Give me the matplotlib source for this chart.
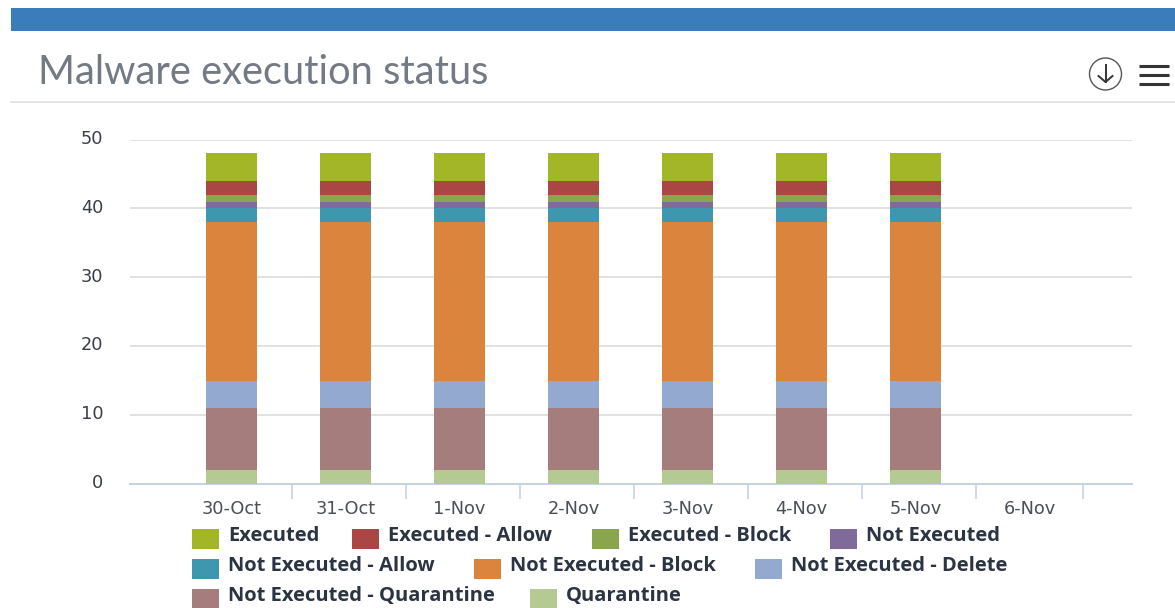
import numpy as np
import matplotlib
matplotlib.use('Agg')
import matplotlib.pyplot as plt
from matplotlib.patches import Rectangle, Circle
from matplotlib.transforms import ScaledTranslation

W, H = 1175, 608

dates = ['30-Oct', '31-Oct', '1-Nov', '2-Nov', '3-Nov', '4-Nov', '5-Nov', '6-Nov']

# bottom to top
quarantine = [2, 2, 2, 2, 2, 2, 2, 0]
ne_quarantine = [9, 9, 9, 9, 9, 9, 9, 0]
ne_delete = [4, 4, 4, 4, 4, 4, 4, 0]
ne_block = [23, 23, 23, 23, 23, 23, 23, 0]
ne_allow = [2, 2, 2, 2, 2, 2, 2, 0]
not_executed = [1, 1, 1, 1, 1, 1, 1, 0]
ex_block = [1, 1, 1, 1, 1, 1, 1, 0]
ex_allow = [2, 2, 2, 2, 2, 2, 2, 0]
executed = [4, 4, 4, 4, 4, 4, 4, 0]

series = [quarantine, ne_quarantine, ne_delete, ne_block, ne_allow,
          not_executed, ex_block, ex_allow, executed]
colors = ['#B5CA92', '#A47D7C', '#93A9CF', '#DB843D', '#3F97AF',
          '#80699B', '#89A54E', '#AA4643', '#A2B627']

yticks = [0, 10, 20, 30, 40, 50]

# legend rows: (swatch x, text x, label, colour)
legend_rows = [
    [(192, 228, 'Executed', '#A2B627'), (352, 388, 'Executed - Allow', '#AA4643'),
     (592, 628, 'Executed - Block', '#89A54E'), (830, 866, 'Not Executed', '#80699B')],
    [(192, 228, 'Not Executed - Allow', '#3F97AF'), (474, 510, 'Not Executed - Block', '#DB843D'),
     (755, 791, 'Not Executed - Delete', '#93A9CF')],
    [(192, 228, 'Not Executed - Quarantine', '#A47D7C'), (530, 566, 'Quarantine', '#B5CA92')],
]
legend_y = [529, 559, 589]

text_c = '#2b3442'
plt.rcParams['font.family'] = ['DejaVu Sans']

fig = plt.figure(figsize=(W / 100, H / 100), dpi=100, facecolor='white')

# chart area, pixel box
ax = fig.add_axes([130 / W, (H - 484) / H, (1132 - 130) / W, 344.5 / H])
x = np.arange(len(dates))
bottom = np.zeros(len(dates))
for vals, c in zip(series, colors):
    ax.bar(x, vals, width=0.447, bottom=bottom, color=c, linewidth=0, zorder=3)
    bottom += np.array(vals)

ax.set_xlim(-0.89, 7.9)
ax.set_ylim(0, 50)
ax.set_yticks(yticks)
ax.grid(axis='y', color='#dcdcdc', linewidth=1.2, zorder=0)
ax.set_xticks(x)
ax.set_xticklabels(dates, fontsize=12.8, color='#4a4f58')
ax.tick_params(axis='x', length=0, pad=11.5)
ax.set_xticks(list(x[:-1] + 0.53) + [7.47], minor=True)
ax.tick_params(axis='x', which='minor', length=11, width=1.2, color='#c5d3e3')
ax.tick_params(axis='y', length=0, pad=19, labelsize=12.8, labelcolor='#3a3f4a')
for lab in ax.get_yticklabels():
    lab.set_transform(lab.get_transform() + ScaledTranslation(0, 2 / 72, fig.dpi_scale_trans))
for s in ['top', 'left', 'right']:
    ax.spines[s].set_visible(False)
ax.spines['bottom'].set_color('#c5d3e3')
ax.spines['bottom'].set_linewidth(1.5)

# page furniture, drawn in pixel coordinates
ov = fig.add_axes([0, 0, 1, 1], facecolor='none')
ov.set_xlim(0, W)
ov.set_ylim(H, 0)
ov.axis('off')
ov.add_patch(Rectangle((11, 8), W - 11, 23, color='#3A7DBA', lw=0))
ov.plot([11, W], [101.5, 101.5], color='#e0e0e0', lw=1.2)
ov.text(38, 72.5, 'Malware execution status', fontsize=28.7, color='#737a84',
        va='center', ha='left', family=['Lato', 'DejaVu Sans'])

# download icon and menu icon
ov.add_patch(Circle((1105.5, 74), 16, fill=False, ec='#555555', lw=1.0))
ov.plot([1105.5, 1105.5], [65, 82], color='#333333', lw=1.4)
ov.plot([1098.5, 1105.5, 1112.5], [76, 82, 76], color='#333333', lw=1.4)
for yy in [65.5, 74.5, 83.5]:
    ov.plot([1139, 1169], [yy, yy], color='#333333', lw=2.2, solid_capstyle='butt')

for row, y0 in zip(legend_rows, legend_y):
    for sx, tx, label, c in row:
        ov.add_patch(Rectangle((sx, y0), 27, 20, color=c, lw=0))
        ov.text(tx, y0 + 7, label, fontsize=14.5, fontweight='bold', color=text_c,
                va='center', ha='left', family=['Open Sans', 'DejaVu Sans'])

fig.savefig('out.png', dpi=100)
